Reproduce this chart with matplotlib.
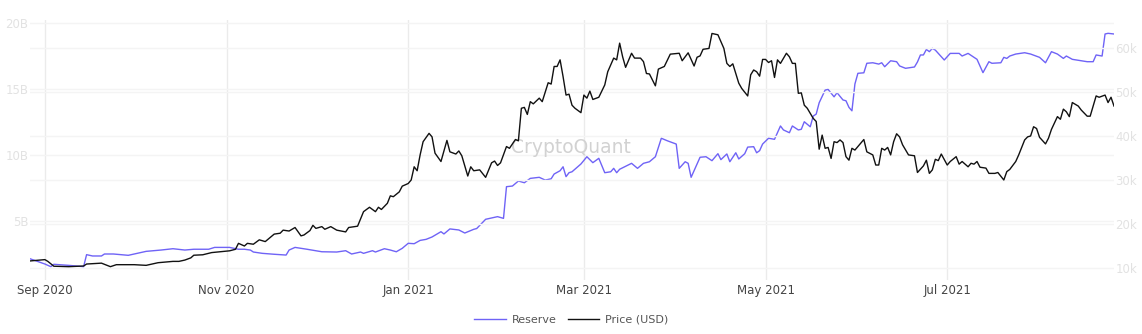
import matplotlib
matplotlib.use("Agg")
import matplotlib.pyplot as plt
import matplotlib.dates as mdates
from matplotlib.ticker import FixedLocator, FuncFormatter
import pandas as pd

# ---------------- data ----------------
price_dates = [
    "2020-08-27", "2020-09-01", "2020-09-02", "2020-09-04", "2020-09-09", "2020-09-14",
    "2020-09-15", "2020-09-20", "2020-09-23", "2020-09-25", "2020-10-01", "2020-10-05",
    "2020-10-09", "2020-10-14", "2020-10-16", "2020-10-18", "2020-10-20", "2020-10-21",
    "2020-10-24", "2020-10-27", "2020-10-30", "2020-11-02", "2020-11-04", "2020-11-05",
    "2020-11-07", "2020-11-08", "2020-11-10", "2020-11-12", "2020-11-14", "2020-11-17",
    "2020-11-19", "2020-11-20", "2020-11-22", "2020-11-24", "2020-11-26", "2020-11-27",
    "2020-11-29", "2020-11-30", "2020-12-01", "2020-12-03", "2020-12-04", "2020-12-06",
    "2020-12-08", "2020-12-11", "2020-12-12", "2020-12-15", "2020-12-17", "2020-12-19",
    "2020-12-21", "2020-12-22", "2020-12-23", "2020-12-25", "2020-12-26", "2020-12-27",
    "2020-12-29", "2020-12-30", "2021-01-01", "2021-01-02", "2021-01-03", "2021-01-04",
    "2021-01-05", "2021-01-06", "2021-01-08", "2021-01-09", "2021-01-10", "2021-01-12",
    "2021-01-14", "2021-01-15", "2021-01-17", "2021-01-18", "2021-01-19", "2021-01-21",
    "2021-01-22", "2021-01-23", "2021-01-25", "2021-01-27", "2021-01-29", "2021-01-30",
    "2021-01-31", "2021-02-01", "2021-02-03", "2021-02-04", "2021-02-06", "2021-02-07",
    "2021-02-08", "2021-02-09", "2021-02-10", "2021-02-11", "2021-02-12", "2021-02-14",
    "2021-02-15", "2021-02-17", "2021-02-18", "2021-02-19", "2021-02-20", "2021-02-21",
    "2021-02-22", "2021-02-23", "2021-02-24", "2021-02-25", "2021-02-26", "2021-02-28",
    "2021-03-01", "2021-03-02", "2021-03-03", "2021-03-04", "2021-03-06", "2021-03-08",
    "2021-03-09", "2021-03-11", "2021-03-12", "2021-03-13", "2021-03-14", "2021-03-15",
    "2021-03-17", "2021-03-18", "2021-03-20", "2021-03-21", "2021-03-22", "2021-03-23",
    "2021-03-25", "2021-03-26", "2021-03-28", "2021-03-30", "2021-04-02", "2021-04-03",
    "2021-04-05", "2021-04-07", "2021-04-08", "2021-04-09", "2021-04-10", "2021-04-12",
    "2021-04-13", "2021-04-15", "2021-04-17", "2021-04-18", "2021-04-19", "2021-04-20",
    "2021-04-22", "2021-04-23", "2021-04-25", "2021-04-26", "2021-04-27", "2021-04-28",
    "2021-04-29", "2021-04-30", "2021-05-01", "2021-05-02", "2021-05-03", "2021-05-04",
    "2021-05-05", "2021-05-06", "2021-05-08", "2021-05-09", "2021-05-10", "2021-05-11",
    "2021-05-12", "2021-05-13", "2021-05-14", "2021-05-15", "2021-05-17", "2021-05-18",
    "2021-05-19", "2021-05-20", "2021-05-21", "2021-05-22", "2021-05-23", "2021-05-24",
    "2021-05-25", "2021-05-26", "2021-05-27", "2021-05-28", "2021-05-29", "2021-05-30",
    "2021-05-31", "2021-06-03", "2021-06-04", "2021-06-06", "2021-06-07", "2021-06-08",
    "2021-06-09", "2021-06-10", "2021-06-11", "2021-06-12", "2021-06-13", "2021-06-14",
    "2021-06-15", "2021-06-16", "2021-06-18", "2021-06-20", "2021-06-21", "2021-06-23",
    "2021-06-24", "2021-06-25", "2021-06-26", "2021-06-27", "2021-06-28", "2021-06-29",
    "2021-07-01", "2021-07-02", "2021-07-04", "2021-07-05", "2021-07-06", "2021-07-08",
    "2021-07-09", "2021-07-10", "2021-07-11", "2021-07-12", "2021-07-14", "2021-07-15",
    "2021-07-17", "2021-07-18", "2021-07-20", "2021-07-21", "2021-07-22", "2021-07-24",
    "2021-07-25", "2021-07-27", "2021-07-28", "2021-07-29", "2021-07-30", "2021-07-31",
    "2021-08-01", "2021-08-03", "2021-08-04", "2021-08-05", "2021-08-07", "2021-08-08",
    "2021-08-09", "2021-08-10", "2021-08-11", "2021-08-12", "2021-08-14", "2021-08-15",
    "2021-08-17", "2021-08-18", "2021-08-20", "2021-08-21", "2021-08-23", "2021-08-24",
    "2021-08-25", "2021-08-26",
]
price_k = [
    11.6, 11.9, 11.5, 10.4, 10.3, 10.45,
    10.9, 11.1, 10.3, 10.75, 10.75, 10.6,
    11.2, 11.5, 11.5, 11.8, 12.3, 12.9,
    13.0, 13.5, 13.7, 13.9, 14.25, 15.6,
    15.0, 15.6, 15.4, 16.4, 16.0, 17.7,
    17.9, 18.6, 18.4, 19.2, 17.3, 17.5,
    18.5, 19.7, 19.0, 19.4, 18.8, 19.4,
    18.6, 18.2, 19.2, 19.5, 22.8, 23.8,
    22.8, 23.8, 23.3, 24.7, 26.4, 26.2,
    27.3, 28.6, 29.2, 30.0, 33.0, 32.1,
    35.7, 38.7, 40.6, 39.8, 36.1, 34.2,
    39.0, 36.4, 35.9, 36.6, 35.5, 30.9,
    33.0, 32.1, 32.3, 30.6, 33.9, 34.3,
    33.3, 33.9, 37.6, 37.2, 39.2, 38.9,
    46.3, 46.5, 44.9, 47.8, 47.3, 48.6,
    47.8, 52.1, 51.8, 55.8, 55.8, 57.3,
    53.5, 49.3, 49.5, 47.0, 46.3, 45.3,
    49.3, 48.6, 50.2, 48.3, 48.8, 51.6,
    54.6, 57.7, 57.3, 61.1, 58.0, 55.6,
    58.8, 57.7, 57.7, 56.9, 54.2, 54.1,
    51.4, 55.2, 55.8, 58.6, 58.8, 57.1,
    58.9, 55.9, 57.9, 58.2, 59.7, 59.9,
    63.3, 63.0, 59.9, 56.5, 55.8, 56.4,
    52.0, 50.8, 49.1, 53.9, 55.0, 54.6,
    53.6, 57.4, 57.4, 56.7, 57.1, 53.3,
    57.3, 56.5, 58.8, 58.0, 56.5, 56.5,
    49.7, 49.8, 47.0, 46.3, 44.0, 43.3,
    37.0, 40.2, 37.2, 37.4, 34.9, 38.7,
    38.5, 39.1, 38.5, 35.3, 34.5, 37.2,
    36.8, 39.2, 36.4, 35.7, 33.4, 33.4,
    37.2, 36.8, 37.4, 35.7, 38.7, 40.5,
    39.8, 38.0, 35.7, 35.5, 31.7, 33.2,
    34.5, 31.5, 32.3, 34.7, 34.4, 35.9,
    33.4, 34.2, 35.3, 33.6, 34.2, 33.0,
    33.8, 33.6, 34.2, 32.9, 32.7, 31.5,
    31.5, 31.7, 30.0, 31.9, 32.4, 34.2,
    35.7, 39.1, 39.8, 40.0, 42.1, 41.7,
    39.7, 38.2, 39.5, 41.5, 44.4, 43.8,
    46.1, 45.5, 44.4, 47.6, 46.8, 45.9,
    44.5, 44.5, 49.1, 48.8, 49.3, 47.6,
    48.8, 46.8,
]

reserve_dates = [
    "2020-08-27", "2020-09-01", "2020-09-03", "2020-09-04", "2020-09-09", "2020-09-14",
    "2020-09-15", "2020-09-17", "2020-09-20", "2020-09-21", "2020-09-24", "2020-09-29",
    "2020-10-01", "2020-10-05", "2020-10-10", "2020-10-14", "2020-10-18", "2020-10-21",
    "2020-10-26", "2020-10-28", "2020-11-02", "2020-11-05", "2020-11-07", "2020-11-09",
    "2020-11-10", "2020-11-13", "2020-11-17", "2020-11-21", "2020-11-22", "2020-11-24",
    "2020-11-28", "2020-12-03", "2020-12-08", "2020-12-11", "2020-12-13", "2020-12-16",
    "2020-12-17", "2020-12-20", "2020-12-21", "2020-12-24", "2020-12-26", "2020-12-28",
    "2020-12-30", "2021-01-01", "2021-01-03", "2021-01-05", "2021-01-07", "2021-01-09",
    "2021-01-12", "2021-01-13", "2021-01-15", "2021-01-18", "2021-01-20", "2021-01-23",
    "2021-01-24", "2021-01-27", "2021-01-31", "2021-02-02", "2021-02-03", "2021-02-05",
    "2021-02-07", "2021-02-09", "2021-02-11", "2021-02-14", "2021-02-16", "2021-02-18",
    "2021-02-19", "2021-02-21", "2021-02-22", "2021-02-23", "2021-02-24", "2021-02-25",
    "2021-02-28", "2021-03-02", "2021-03-04", "2021-03-06", "2021-03-08", "2021-03-10",
    "2021-03-11", "2021-03-12", "2021-03-13", "2021-03-17", "2021-03-19", "2021-03-21",
    "2021-03-23", "2021-03-25", "2021-03-27", "2021-03-29", "2021-04-01", "2021-04-02",
    "2021-04-04", "2021-04-05", "2021-04-06", "2021-04-09", "2021-04-11", "2021-04-13",
    "2021-04-15", "2021-04-16", "2021-04-18", "2021-04-19", "2021-04-21", "2021-04-22",
    "2021-04-24", "2021-04-25", "2021-04-27", "2021-04-28", "2021-04-29", "2021-04-30",
    "2021-05-02", "2021-05-04", "2021-05-06", "2021-05-07", "2021-05-09", "2021-05-10",
    "2021-05-12", "2021-05-13", "2021-05-14", "2021-05-16", "2021-05-17", "2021-05-18",
    "2021-05-19", "2021-05-21", "2021-05-22", "2021-05-24", "2021-05-25", "2021-05-27",
    "2021-05-28", "2021-05-29", "2021-05-30", "2021-05-31", "2021-06-01", "2021-06-03",
    "2021-06-04", "2021-06-06", "2021-06-08", "2021-06-09", "2021-06-10", "2021-06-12",
    "2021-06-14", "2021-06-15", "2021-06-17", "2021-06-20", "2021-06-21", "2021-06-22",
    "2021-06-23", "2021-06-24", "2021-06-25", "2021-06-26", "2021-06-27", "2021-06-30",
    "2021-07-02", "2021-07-05", "2021-07-06", "2021-07-08", "2021-07-11", "2021-07-13",
    "2021-07-15", "2021-07-16", "2021-07-19", "2021-07-20", "2021-07-21", "2021-07-22",
    "2021-07-24", "2021-07-27", "2021-07-29", "2021-08-01", "2021-08-03", "2021-08-05",
    "2021-08-07", "2021-08-09", "2021-08-10", "2021-08-12", "2021-08-15", "2021-08-17",
    "2021-08-19", "2021-08-20", "2021-08-22", "2021-08-23", "2021-08-24", "2021-08-26",
]
reserve_b = [
    2.14, 1.74, 1.54, 1.72, 1.64, 1.54,
    2.45, 2.35, 2.35, 2.5, 2.5, 2.4,
    2.5, 2.7, 2.8, 2.9, 2.8, 2.86,
    2.86, 3.0, 3.0, 2.86, 2.86, 2.8,
    2.65, 2.55, 2.48, 2.42, 2.8, 3.0,
    2.86, 2.67, 2.65, 2.75, 2.5, 2.65,
    2.55, 2.75, 2.65, 2.9, 2.8, 2.67,
    2.93, 3.31, 3.28, 3.53, 3.61, 3.79,
    4.19, 4.02, 4.4, 4.32, 4.09, 4.37,
    4.43, 5.13, 5.33, 5.2, 7.6, 7.65,
    8.03, 7.9, 8.23, 8.31, 8.1, 8.2,
    8.56, 8.81, 9.11, 8.36, 8.66, 8.73,
    9.32, 9.87, 9.42, 9.75, 8.66, 8.73,
    8.99, 8.66, 8.92, 9.37, 8.99, 9.37,
    9.49, 9.87, 11.27, 11.08, 10.83, 8.99,
    9.49, 9.37, 8.31, 9.83, 9.87, 9.57,
    10.1, 9.65, 10.08, 9.49, 10.17, 9.7,
    10.1, 10.6, 10.63, 10.17, 10.33, 10.83,
    11.27, 11.19, 12.2, 11.9, 11.69, 12.2,
    11.9, 11.95, 12.52, 12.14, 12.95, 13.1,
    13.96, 14.92, 14.97, 14.41, 14.72, 14.17,
    14.11, 13.61, 13.35, 15.38, 16.19, 16.23,
    16.95, 16.99, 16.89, 16.99, 16.69, 17.14,
    17.07, 16.75, 16.57, 16.67, 17.05, 17.58,
    17.58, 18.0, 17.83, 18.08, 17.95, 17.2,
    17.7, 17.7, 17.5, 17.7, 17.25, 16.24,
    17.07, 16.95, 16.99, 17.4, 17.32, 17.5,
    17.65, 17.75, 17.65, 17.4, 16.99, 17.83,
    17.65, 17.32, 17.5, 17.25, 17.14, 17.07,
    17.07, 17.58, 17.5, 19.17, 19.22, 19.17,
]

reserve_ticks = [5, 10, 15, 20]            # billions
price_ticks = [10, 20, 30, 40, 50, 60]     # thousands USD
series_names = ["Reserve", "Price (USD)"]
watermark = "CryptoQuant"

# ---------------- figure ----------------
W, H = 1142, 334
fig = plt.figure(figsize=(W / 100, H / 100), dpi=100)
plt.rcParams["font.family"] = ["DejaVu Sans"]

ax = fig.add_axes([30 / W, 1 - 280 / H, (1114 - 30) / W, 260 / H])
ax2 = ax.twinx()

rd = pd.to_datetime(reserve_dates)
pdts = pd.to_datetime(price_dates)
reserve_vals = [v * 1e9 for v in reserve_b]
price_vals = [v * 1e3 for v in price_k]

l1, = ax.plot(rd, reserve_vals, color="#6f63f6", lw=1.0, zorder=3)
l2, = ax2.plot(pdts, price_vals, color="#111111", lw=1.0, zorder=3)

ax.set_xlim(min(rd[0], pdts[0]), max(rd[-1], pdts[-1]))
ax.set_ylim(0.53e9, 20.23e9)
ax2.set_ylim(7.27e3, 66.36e3)

for a in (ax, ax2):
    for s in a.spines.values():
        s.set_visible(False)
    a.set_facecolor("none")

ax.yaxis.set_major_locator(FixedLocator([t * 1e9 for t in reserve_ticks]))
ax.yaxis.set_major_formatter(FuncFormatter(lambda v, p: f"{v / 1e9:g}B"))
ax2.yaxis.set_major_locator(FixedLocator([t * 1e3 for t in price_ticks]))
ax2.yaxis.set_major_formatter(FuncFormatter(lambda v, p: f"{v / 1e3:g}k"))

ax.xaxis.set_major_locator(mdates.MonthLocator(bymonth=[1, 3, 5, 7, 9, 11]))
ax.xaxis.set_major_formatter(mdates.DateFormatter("%b %Y"))

ax.tick_params(axis="x", length=0, pad=3, labelsize=8.5, labelcolor="#444444")
ax.tick_params(axis="y", length=0, pad=1, labelsize=8.5, labelcolor="#e2e2e2")
ax2.tick_params(axis="y", length=0, pad=1, labelsize=8.5, labelcolor="#e2e2e2")

ax.grid(axis="x", color="#ebebeb", lw=1.0, zorder=0)
ax.grid(axis="y", color="#f4f4f4", lw=1.0, zorder=0)
ax2.grid(axis="y", color="#f4f4f4", lw=1.0, zorder=0)
ax.set_axisbelow(True)
ax2.set_axisbelow(True)

ax.text(0.499, 0.508, watermark, transform=ax.transAxes, ha="center", va="center",
        fontsize=13.5, color="#d2d2d2", zorder=1)

fig.legend([l1, l2], series_names, loc="center", bbox_to_anchor=(0.5005, 1 - 320 / H),
           ncol=2, frameon=False, fontsize=8, labelcolor="#555555",
           handlelength=2.8, handletextpad=0.55, columnspacing=1.05)

fig.savefig("out.png", dpi=100, facecolor="white")
